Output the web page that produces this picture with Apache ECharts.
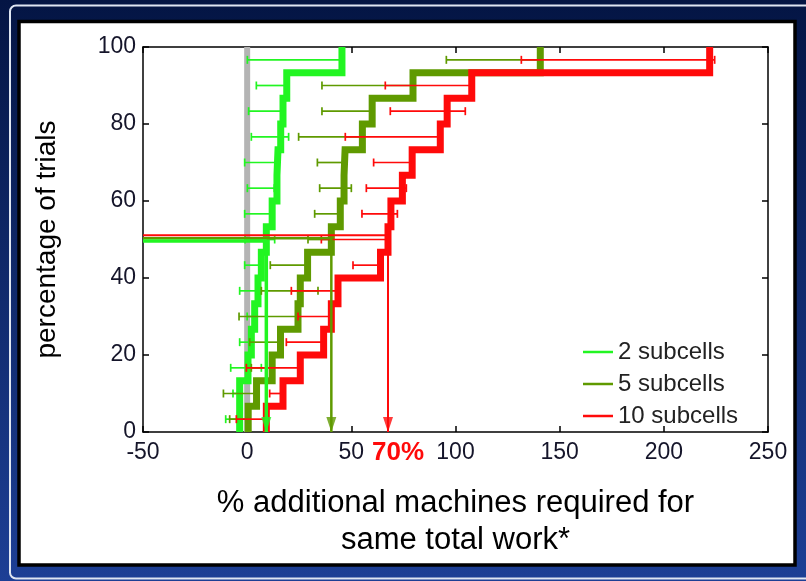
<!DOCTYPE html>
<html><head><meta charset="utf-8">
<script src="https://cdn.jsdelivr.net/npm/echarts@6/dist/echarts.min.js"></script>
<style>html,body{margin:0;padding:0;background:#0a1f55}#c{width:806px;height:581px}</style>
</head><body><div id="c"></div>
<script>
const seriesNames = ['2 subcells', '5 subcells', '10 subcells'];
const seriesColors = ['#22f522', '#5f9a00', '#ff0a0a'];
const xTicks = [-50, 0, 50, 100, 150, 200, 250];
const yTicks = [0, 20, 40, 60, 80, 100];
const trials = 15;
// x value of each CDF step (sorted trials)
const green = [-3.6, -3.6, 0.4, 2.0, 3.6, 5.2, 6.8, 9.2, 12.0, 14.3, 14.8, 16.1, 17.2, 19.0, 45.5];
const olive = [0.5, 4.5, 12, 16, 24.4, 25.5, 29, 40.4, 44.7, 46.5, 47, 55.3, 60, 79.6, 140.7];
const red = [9.2, 17.2, 25.5, 36.7, 40.4, 43.6, 64, 67.6, 69, 74.5, 79.2, 92.7, 96, 107.8, 222];
// error bar ranges [low, high] per trial
const greenErr = [[-10.3,-3.6],[-6.8,-3.6],[-7.9,6.8],[-3.6,2],[0,3.6],[-3.6,5.2],[-1.2,7],[-1,13.2],[-1.2,11],[0.1,13],[-1.2,14.8],[2,19.9],[0.7,17],[4.4,19],[0.1,45.5]];
const oliveErr = [[-8.4,0.5],[-11.4,4.5],[2,12],[1.2,16],[-3.9,24.4],[6.8,34],[11.1,29],[29.2,40.4],[32.4,44.7],[34.8,50],[33.7,47],[24.7,55.3],[35.9,60],[35.9,79.6],[95.6,140.7]];
const redErr = [[-5.2,9.2],[10.8,17.2],[-0.4,25.5],[18.8,36.7],[24.4,40.4],[21.2,43.6],[50.8,64],[35.6,67.6],[55.1,72.1],[57.2,76.4],[60.7,79.2],[47.1,92.7],[68.7,104.7],[66.3,107.8],[131.6,224.4]];
// median annotation (x where 50% reached, y of horizontal guide)
const medianX = [9.2, 40.4, 67.6];
const medianY = [49.6, 50.3, 51.1];
const baselineX = 0;
const annotationText = '70%';

const curves = [green, olive, red];
const errs = [greenErr, oliveErr, redErr];

function stepData(xs) {
  const pts = [[xs[0], 0]];
  xs.forEach((x, i) => pts.push([x, (i + 1) * 100 / trials]));
  return pts;
}
function errData(arr) {
  return arr.map((r, i) => [r[0], r[1], (i + 0.5) * 100 / trials]);
}

const FONT = 'Liberation Sans';
const series = [];
series.push({
  type: 'line', name: 'baseline', data: [[baselineX, yTicks[0]], [baselineX, yTicks[yTicks.length - 1]]],
  showSymbol: false, symbol: 'none', lineStyle: { color: '#b4b4b4', width: 6 }, z: 1, silent: true
});
curves.forEach((xs, i) => {
  series.push({
    type: 'line', name: seriesNames[i], data: stepData(xs), step: 'end',
    showSymbol: false, symbol: 'none', color: seriesColors[i],
    lineStyle: { color: seriesColors[i], width: 7, join: 'miter', cap: 'butt' }, z: 2
  });
});
errs.forEach((arr, i) => {
  const col = seriesColors[i];
  series.push({
    type: 'custom', name: 'err' + i, data: errData(arr), z: 3,
    encode: { x: [0, 1], y: 2 },
    renderItem: (params, api) => {
      const y = api.value(2);
      const p1 = api.coord([api.value(0), y]);
      const p2 = api.coord([api.value(1), y]);
      const h = 4;
      const style = { stroke: col, lineWidth: 1.7 };
      return { type: 'group', children: [
        { type: 'line', shape: { x1: p1[0], y1: p1[1], x2: p2[0], y2: p2[1] }, style },
        { type: 'line', shape: { x1: p1[0], y1: p1[1] - h, x2: p1[0], y2: p1[1] + h }, style },
        { type: 'line', shape: { x1: p2[0], y1: p2[1] - h, x2: p2[0], y2: p2[1] + h }, style }
      ] };
    }
  });
});
const annWidths = [3.5, 2.5, 2];
[1, 0, 2].forEach(i => {
  series.push({
    type: 'line', name: 'ann' + i,
    data: [[xTicks[0], medianY[i]], [medianX[i], medianY[i]], [medianX[i], yTicks[0]]],
    showSymbol: false, symbol: 'none', lineStyle: { color: seriesColors[i], width: annWidths[i] }, z: 4
  });
});
series.push({
  type: 'scatter', name: 'arrows', z: 5,
  data: medianX.map((x, i) => ({ value: [x, yTicks[0]], itemStyle: { color: seriesColors[i] } })),
  symbol: 'path://M0,0L10,0L5,15Z', symbolSize: [10, 15], symbolOffset: [0, -7.5]
});

const axisLineStyle = { color: '#000', width: 1.5 };
const chart = echarts.init(document.getElementById('c'));
chart.setOption({
  animation: false,
  backgroundColor: { type: 'linear', x: 0, y: 0, x2: 0, y2: 1,
    colorStops: [{ offset: 0, color: '#041544' }, { offset: 1, color: '#1d3f95' }] },
  graphic: [
    { type: 'rect', z: -10, shape: { x: 10, y: 5.5, width: 820, height: 573, r: 6 },
      style: { fill: 'transparent', stroke: '#dfe6f2', lineWidth: 2 } },
    { type: 'rect', z: -9, shape: { x: 19, y: 21.5, width: 776, height: 543.5 },
      style: { fill: '#ffffff', stroke: '#000000', lineWidth: 3.5 } },
    { type: 'text', z: 100, x: 398, y: 453,
      style: { text: annotationText, fill: '#ff0a0a', font: 'bold 26px "Liberation Sans"', align: 'center', verticalAlign: 'middle' } }
  ],
  grid: { left: 143, right: 38, top: 47, bottom: 149, containLabel: false },
  legend: {
    data: seriesNames, orient: 'vertical', left: 583, top: 340, itemWidth: 30, itemHeight: 2.5,
    itemGap: 8, icon: 'rect', padding: 0,
    textStyle: { fontSize: 24, color: '#222', fontFamily: FONT }
  },
  xAxis: [{
    type: 'value', min: xTicks[0], max: xTicks[xTicks.length - 1], interval: xTicks[1] - xTicks[0],
    position: 'bottom', axisLine: { onZero: false, lineStyle: axisLineStyle },
    axisTick: { inside: true, length: 6, lineStyle: axisLineStyle },
    axisLabel: { fontSize: 23, color: '#15152a', margin: 9, fontFamily: FONT },
    splitLine: { show: false },
    name: '% additional machines required for\nsame total work*', nameLocation: 'middle', nameGap: 53,
    nameTextStyle: { fontSize: 31, lineHeight: 37, color: '#000', fontFamily: FONT }
  }, {
    type: 'value', min: xTicks[0], max: xTicks[xTicks.length - 1], interval: xTicks[1] - xTicks[0],
    position: 'top', axisLine: { onZero: false, lineStyle: axisLineStyle },
    axisTick: { inside: true, length: 6, lineStyle: axisLineStyle },
    axisLabel: { show: false }, splitLine: { show: false }
  }],
  yAxis: [{
    type: 'value', min: yTicks[0], max: yTicks[yTicks.length - 1], interval: yTicks[1] - yTicks[0],
    position: 'left', axisLine: { onZero: false, show: true, lineStyle: axisLineStyle },
    axisTick: { show: true, inside: true, length: 6, lineStyle: axisLineStyle },
    axisLabel: { fontSize: 23, color: '#15152a', margin: 7, fontFamily: FONT, padding: [8, 0, 0, 0] },
    splitLine: { show: false },
    name: 'percentage of trials', nameLocation: 'middle', nameGap: 82,
    nameTextStyle: { fontSize: 28, color: '#000', fontFamily: FONT }
  }, {
    type: 'value', min: yTicks[0], max: yTicks[yTicks.length - 1], interval: yTicks[1] - yTicks[0],
    position: 'right', axisLine: { onZero: false, show: true, lineStyle: axisLineStyle },
    axisTick: { show: true, inside: true, length: 6, lineStyle: axisLineStyle },
    axisLabel: { show: false }, splitLine: { show: false }
  }],
  series: series
});
</script>
</body></html>
